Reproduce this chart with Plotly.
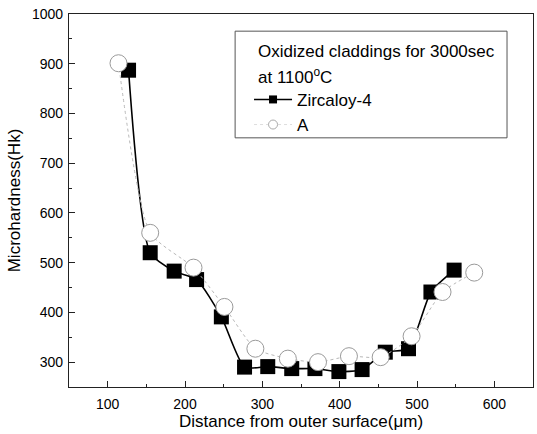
import plotly.graph_objects as go

# Data
zr_x = [127, 155, 186, 215, 247, 277, 307, 338, 368, 399, 429, 459, 489, 518, 548]
zr_y = [887, 520, 483, 466, 391, 290, 291, 287, 287, 281, 285, 320, 327, 441, 485]
a_x = [114, 155, 211, 251, 291, 333, 372, 412, 453, 493, 533, 574]
a_y = [901, 560, 490, 411, 327, 307, 300, 312, 310, 352, 441, 480]

x_ticks = [100, 200, 300, 400, 500, 600]
y_ticks = [300, 400, 500, 600, 700, 800, 900, 1000]

FONT = "Liberation Sans, Arial, sans-serif"

fig = go.Figure()
fig.add_trace(go.Scatter(
    x=zr_x, y=zr_y, name="Zircaloy-4", mode="lines+markers", showlegend=False,
    line=dict(color="black", width=1.6, shape="spline", smoothing=0.6),
    marker=dict(symbol="square", size=15, color="black", line=dict(width=0)),
))
fig.add_trace(go.Scatter(
    x=a_x, y=a_y, name="A", mode="lines+markers", showlegend=False,
    line=dict(color="#b8b8b8", width=1, dash="dot", shape="spline", smoothing=0.6),
    marker=dict(symbol="circle", size=17, color="white",
                line=dict(color="#9a9a9a", width=1)),
))
# legend entries (smaller symbols, as in the reference legend)
fig.add_trace(go.Scatter(
    x=[None], y=[None], name="Zircaloy-4", mode="lines+markers",
    line=dict(color="black", width=1.6),
    marker=dict(symbol="square", size=8, color="black", line=dict(width=0)),
))
fig.add_trace(go.Scatter(
    x=[None], y=[None], name="A", mode="lines+markers",
    line=dict(color="#dddddd", width=1, dash="dot"),
    marker=dict(symbol="circle", size=9, color="white",
                line=dict(color="#aaaaaa", width=1)),
))

axis_common = dict(
    showline=True, linecolor="#222", linewidth=1.3, mirror=True,
    ticks="inside", ticklen=6, tickwidth=1, tickcolor="#222",
    showgrid=False, zeroline=False, automargin=False,
    tickfont=dict(family=FONT, size=14, color="black"),
    ticklabeloverflow="allow",
)

fig.update_xaxes(
    range=[50, 650], tickvals=x_ticks, ticklabelstandoff=4,
    minor=dict(ticks="inside", ticklen=3, dtick=50, tick0=0, tickcolor="#222"),
    title=dict(text="Distance from outer surface(μm)",
               font=dict(family=FONT, size=17, color="black"), standoff=4),
    **axis_common,
)
fig.update_yaxes(
    range=[250, 1000], tickvals=y_ticks, ticklabelstandoff=2,
    minor=dict(ticks="inside", ticklen=3, dtick=50, tick0=0, tickcolor="#222"),
    title=dict(text="Microhardness(Hk)",
               font=dict(family=FONT, size=17, color="black"), standoff=6),
    **axis_common,
)

# legend box and its two title lines
fig.add_shape(type="rect", xref="paper", yref="paper",
              x0=0.358, x1=0.944, y0=0.668, y1=0.954,
              line=dict(color="#555", width=1), fillcolor="rgba(0,0,0,0)")
fig.add_annotation(xref="paper", yref="paper", x=0.403, y=0.899,
                   xanchor="left", yanchor="middle", showarrow=False,
                   text="Oxidized claddings for 3000sec",
                   font=dict(family=FONT, size=17, color="black"))
fig.add_annotation(xref="paper", yref="paper", x=0.403, y=0.834,
                   xanchor="left", yanchor="middle", showarrow=False,
                   text="at 1100<sup>o</sup>C",
                   font=dict(family=FONT, size=17, color="black"))

fig.update_layout(
    width=537, height=434,
    margin=dict(l=69, r=4, t=14, b=47, autoexpand=False),
    paper_bgcolor="white", plot_bgcolor="white",
    font=dict(family=FONT, color="black"),
    legend=dict(x=0.388, y=0.818, xanchor="left", yanchor="top",
                bgcolor="rgba(0,0,0,0)", borderwidth=0,
                font=dict(family=FONT, size=17, color="black"),
                itemwidth=38, tracegroupgap=0),
    showlegend=True,
)

fig.write_html("out.html",
               config={"displayModeBar": False},
               post_script="document.body.style.margin='0px';"
                           "document.body.style.overflow='hidden';")
